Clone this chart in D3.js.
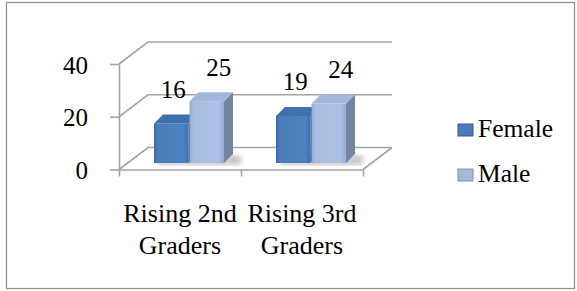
<!DOCTYPE html>
<html>
<head>
<meta charset="utf-8">
<script src="https://cdn.jsdelivr.net/npm/d3@7"></script>
<style>
  body { margin: 0; background: #fff; }
  svg text { font-family: "Liberation Serif", Tinos, "Times New Roman", Times, "DejaVu Serif", serif !important; fill: #000; }
</style>
</head>
<body>
<div id="root"></div>
<script>
// data
var categories = ["Rising 2nd Graders", "Rising 3rd Graders"];
var catLines = [["Rising 2nd", "Graders"], ["Rising 3rd", "Graders"]];
var seriesNames = ["Female", "Male"];
var female = [16, 19];
var male = [25, 24];
var yTicks = [0, 20, 40];

var W = 577, H = 291;
var depthX = 29, depthY = -22;   // back wall offset
var barDX = 9, barDY = -9;       // depth of a single bar
var serif = "'Liberation Serif', Tinos, 'Times New Roman', Times, 'DejaVu Serif', serif";

var svg = d3.select("#root")
    .append("svg")
    .attr("width", W)
    .attr("height", H)
    .attr("font-family", serif);

// outer frame
svg.append("rect")
    .attr("x", 6.5).attr("y", 2.5)
    .attr("width", 568).attr("height", 286)
    .attr("fill", "none")
    .attr("stroke", "#8c8c8c")
    .attr("stroke-width", 1.2);

var yFront = d3.scaleLinear().domain([0, 40]).range([169.5, 64]);
var yBack = d3.scaleLinear().domain([0, 40]).range([169.5 + depthY, 64 + depthY]);
var yBar = d3.scaleLinear().domain([0, 40]).range([163, 64]);

var x0 = d3.scaleBand().domain(categories).range([119, 363]);
var x1 = d3.scaleBand().domain(seriesNames).range([35, 105]).paddingInner(0.03);
var xEdge = d3.scaleLinear().domain([0, categories.length]).range([119, 363]);

var grid = "#a3a3a3";

// back wall gridlines + side wall diagonals
yTicks.forEach(function (t) {
    svg.append("polyline")
        .attr("points", [
            [119, yFront(t)],
            [119 + depthX, yBack(t)],
            [363 + depthX, yBack(t)]
        ].join(" "))
        .attr("fill", "none")
        .attr("stroke", grid)
        .attr("stroke-width", 1.6);
});

// floor right edge
svg.append("line")
    .attr("x1", 363).attr("y1", yFront(0))
    .attr("x2", 363 + depthX).attr("y2", yBack(0))
    .attr("stroke", grid).attr("stroke-width", 1.6);

// y axis
var yAxis = svg.append("g")
    .attr("transform", "translate(119,0)")
    .call(d3.axisLeft(yFront).tickValues(yTicks).tickSize(9).tickSizeOuter(0).tickPadding(22));
yAxis.attr("font-family", serif);
yAxis.selectAll("path, line").attr("stroke", grid).attr("stroke-width", 1.6);
yAxis.selectAll("text")
    .attr("font-size", 25)
    .attr("fill", "#000")
    .attr("dy", "0.36em");

// x axis (floor front edge)
var xAxis = svg.append("g")
    .attr("transform", "translate(0," + yFront(0) + ")")
    .call(d3.axisBottom(xEdge).tickValues(d3.range(categories.length + 1)).tickSize(7).tickSizeOuter(0).tickFormat(""));
xAxis.selectAll("path, line").attr("stroke", grid).attr("stroke-width", 1.6);

// gradients
var defs = svg.append("defs");
function grad(id, stops) {
    var g = defs.append("linearGradient").attr("id", id)
        .attr("x1", "0%").attr("x2", "100%").attr("y1", "0%").attr("y2", "0%");
    stops.forEach(function (s) {
        g.append("stop").attr("offset", s[0]).attr("stop-color", s[1]);
    });
}
grad("fFront", [["0%", "#3c6ba3"], ["12%", "#4a7db9"], ["85%", "#4f83bf"], ["100%", "#3f6fa8"]]);
grad("mFront", [["0%", "#93abd3"], ["12%", "#a7bde0"], ["85%", "#abc0e2"], ["100%", "#95acd4"]]);
defs.append("filter").attr("id", "blur")
    .append("feGaussianBlur").attr("stdDeviation", 2.5);

var colors = {
    Female: { front: "url(#fFront)", top: "#3f71ab", side: "#32608f" },
    Male: { front: "url(#mFront)", top: "#a2b7db", side: "#72849f" }
};

var bars = [];
categories.forEach(function (c, i) {
    bars.push({ cat: c, s: "Female", v: female[i] });
    bars.push({ cat: c, s: "Male", v: male[i] });
});

// floor shadows
svg.selectAll(".shadow")
    .data(categories)
    .enter()
    .append("rect")
    .attr("x", function (c) { return x0(c) + x1("Female") + 4; })
    .attr("y", yBar(0) - 8)
    .attr("width", x1.bandwidth() * 2 + 14)
    .attr("height", 10)
    .attr("fill", "#c8c8c8")
    .attr("filter", "url(#blur)");

var g = svg.selectAll(".bar")
    .data(bars)
    .enter()
    .append("g")
    .attr("class", "bar");

// side face
g.append("polygon")
    .attr("points", function (d) {
        var x = x0(d.cat) + x1(d.s) + x1.bandwidth();
        var yt = yBar(d.v), yb = yBar(0);
        return [[x, yt], [x + barDX, yt + barDY], [x + barDX, yb + barDY], [x, yb]].join(" ");
    })
    .attr("fill", function (d) { return colors[d.s].side; });

// top face
g.append("polygon")
    .attr("points", function (d) {
        var x = x0(d.cat) + x1(d.s), w = x1.bandwidth();
        var yt = yBar(d.v);
        return [[x, yt], [x + barDX, yt + barDY], [x + w + barDX, yt + barDY], [x + w, yt]].join(" ");
    })
    .attr("fill", function (d) { return colors[d.s].top; });

// front face
g.append("rect")
    .attr("x", function (d) { return x0(d.cat) + x1(d.s); })
    .attr("y", function (d) { return yBar(d.v); })
    .attr("width", x1.bandwidth())
    .attr("height", function (d) { return yBar(0) - yBar(d.v); })
    .attr("fill", function (d) { return colors[d.s].front; });

// value labels
g.append("text")
    .attr("x", function (d) {
        return x0(d.cat) + x1(d.s) + x1.bandwidth() / 2 + (d.s === "Male" ? 12 : 2);
    })
    .attr("y", function (d) { return yBar(d.v) - 25.5; })
    .attr("text-anchor", "middle")
    .attr("font-size", 25)
    .text(function (d) { return d.v; });

// category labels
categories.forEach(function (c, i) {
    var t = svg.append("text")
        .attr("x", x0(c) + x0.bandwidth() / 2)
        .attr("y", 222)
        .attr("text-anchor", "middle")
        .attr("font-size", 26);
    catLines[i].forEach(function (line, k) {
        t.append("tspan")
            .attr("x", x0(c) + x0.bandwidth() / 2)
            .attr("dy", k === 0 ? 0 : 32)
            .text(line);
    });
});

// legend
var legend = svg.selectAll(".legend")
    .data(seriesNames)
    .enter()
    .append("g")
    .attr("class", "legend")
    .attr("transform", function (d, i) { return "translate(458," + (137 + i * 45) + ")"; });

legend.append("rect")
    .attr("x", 0).attr("y", -13)
    .attr("width", 15).attr("height", 12)
    .attr("fill", function (d) { return d === "Female" ? "#4a7cb7" : "#a4badd"; })
    .attr("stroke", function (d) { return d === "Female" ? "#2f5a8c" : "#7d8fae"; })
    .attr("stroke-width", 1);

legend.append("text")
    .attr("x", 20)
    .attr("y", 0)
    .attr("font-size", 25.5)
    .text(function (d) { return d; });
</script>
</body>
</html>
